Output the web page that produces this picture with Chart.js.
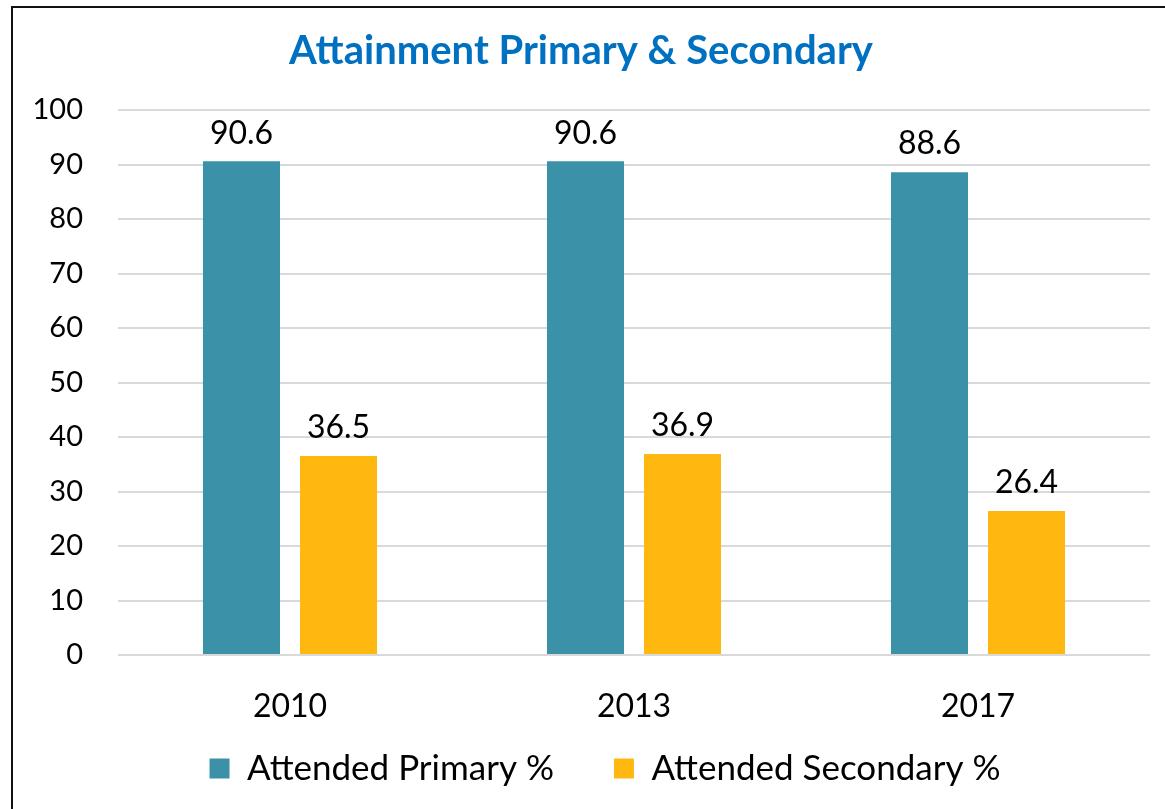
<!DOCTYPE html>
<html>
<head>
<meta charset="utf-8">
<script src="https://cdn.jsdelivr.net/npm/chart.js@4"></script>
<style>
  body { margin: 0; background: #fff; }
  #wrap { position: relative; width: 1165px; height: 809px; overflow: hidden; }
  #frame { position: absolute; left: 11px; top: 6px; width: 1200px; height: 900px; border: 2px solid #111; box-sizing: border-box; }
  canvas { position: absolute; left: 0; top: 0; }
</style>
</head>
<body>
<div id="wrap">
  <div id="frame"></div>
  <canvas id="chart" width="1165" height="809"></canvas>
</div>
<script>
// Chart data
const years = ['2010', '2013', '2017'];
const primaryValues = [90.6, 90.6, 88.6];
const secondaryValues = [36.5, 36.9, 26.4];
const yTicks = [0, 10, 20, 30, 40, 50, 60, 70, 80, 90, 100];

const fontFamily = 'Lato, "Open Sans", sans-serif';

// Value labels above bars + legend placement tweaks
const valueLabels = {
    id: 'valueLabels',
    afterInit(chart) {
        const legend = chart.legend;
        const fit = legend.fit;
        legend.fit = function () {
            fit.call(this);
            this.height = 64;
        };
    },
    afterLayout(chart) {
        // pull the legend up so it sits right below the year labels
        const legend = chart.legend;
        legend.top = chart.chartArea.bottom + 36;
        legend.bottom = legend.top + 118;
        legend.left += 24;
        legend.right += 24;
    },
    afterDatasetsDraw(chart) {
        const ctx = chart.ctx;
        ctx.save();
        ctx.fillStyle = '#000';
        ctx.font = '32px ' + fontFamily;
        ctx.textAlign = 'center';
        ctx.textBaseline = 'bottom';
        chart.data.datasets.forEach((ds, i) => {
            chart.getDatasetMeta(i).data.forEach((bar, j) => {
                ctx.fillText(ds.data[j].toFixed(1), bar.x, bar.y - 12);
            });
        });
        ctx.restore();
    }
};

const ctx = document.getElementById('chart').getContext('2d');
new Chart(ctx, {
    type: 'bar',
    data: {
        labels: years,
        datasets: [
            {
                label: 'Attended Primary %',
                data: primaryValues,
                backgroundColor: '#3B91A7'
            },
            {
                label: 'Attended Secondary %',
                data: secondaryValues,
                backgroundColor: '#FFB80F'
            }
        ]
    },
    options: {
        responsive: false,
        animation: false,
        layout: { padding: { left: 12, right: 15, top: 0, bottom: 0 } },
        datasets: {
            bar: { categoryPercentage: 0.564, barPercentage: 0.794 }
        },
        scales: {
            x: {
                grid: { display: false },
                border: { display: false },
                afterFit(axis) { axis.height = 90; },
                ticks: { color: '#000', font: { family: fontFamily, size: 32 }, padding: 24 }
            },
            y: {
                min: 0,
                max: 100,
                afterBuildTicks(axis) { axis.ticks = yTicks.map(v => ({ value: v })); },
                afterFit(axis) { axis.width = 106; },
                grid: { color: '#D9D9D9', lineWidth: 2, drawTicks: false },
                border: { display: false },
                ticks: { color: '#000', font: { family: fontFamily, size: 29 }, padding: 35 }
            }
        },
        plugins: {
            title: {
                display: true,
                text: 'Attainment Primary & Secondary',
                color: '#0070C0',
                font: { family: fontFamily, size: 40, weight: 'bold' },
                padding: { top: 27, bottom: 35 }
            },
            legend: {
                position: 'bottom',
                labels: {
                    color: '#000',
                    font: { family: fontFamily, size: 35 },
                    boxWidth: 20,
                    boxHeight: 20,
                    padding: 60
                }
            },
            tooltip: { enabled: false }
        }
    },
    plugins: [valueLabels]
});
</script>
</body>
</html>
